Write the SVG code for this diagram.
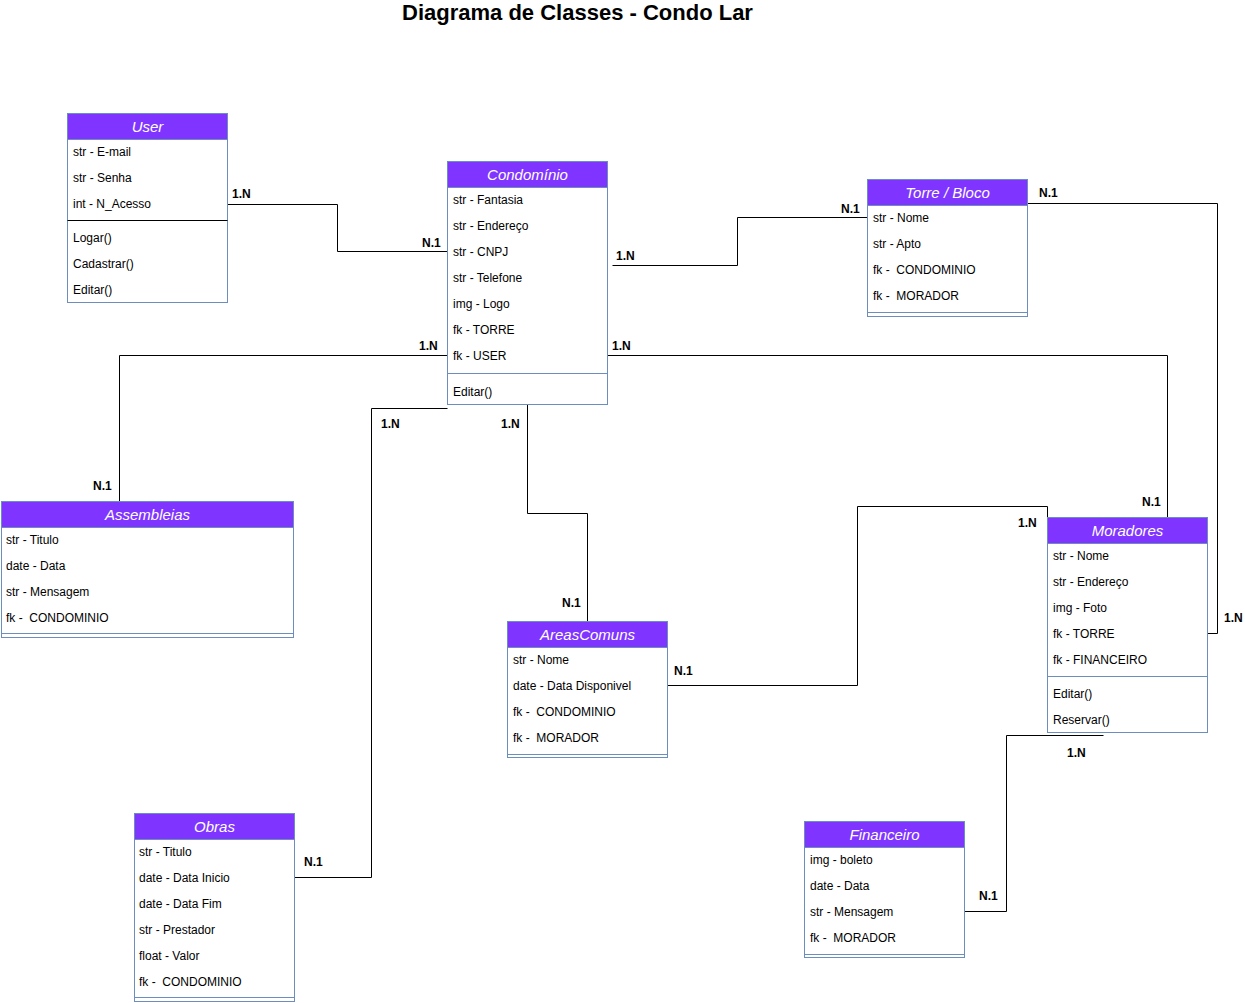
<svg xmlns="http://www.w3.org/2000/svg" width="1245" height="1003" viewBox="0 0 1245 1003">
<style>
.box{fill:#ffffff;stroke:#6c8ebf;stroke-width:1}
.hdr{fill:#7f35ff;stroke:#6c8ebf;stroke-width:1}
.sep{stroke:#6c8ebf;stroke-width:1}
.sepd{stroke:#000000;stroke-width:1}
.ttl{font-family:"Liberation Sans",Arial,sans-serif;font-size:15px;font-style:italic;fill:#ffffff;text-anchor:middle}
.row{font-family:"Liberation Sans",Arial,sans-serif;font-size:12px;fill:#000000;white-space:pre}
.lbl{font-family:"Liberation Sans",Arial,sans-serif;font-size:12px;font-weight:bold;fill:#000000}
.edge{fill:none;stroke:#000000;stroke-width:1}
.title{font-family:"Liberation Sans",Arial,sans-serif;font-size:22px;font-weight:bold;fill:#000000;text-anchor:middle}
</style>
<rect width="1245" height="1003" fill="#ffffff"/>
<text class="title" x="577.5" y="20">Diagrama de Classes - Condo Lar</text>

<g id="connectors">
<polyline class="edge" points="227.5,204.5 337.5,204.5 337.5,251.5 447.5,251.5"/>
<polyline class="edge" points="612.5,265.5 737.5,265.5 737.5,217.5 867.5,217.5"/>
<polyline class="edge" points="447.5,355.5 119.5,355.5 119.5,501.5"/>
<polyline class="edge" points="607.5,355.5 1167.5,355.5 1167.5,517.5"/>
<polyline class="edge" points="447.5,408.5 371.5,408.5 371.5,877.5 294.5,877.5"/>
<polyline class="edge" points="527.5,403.5 527.5,513.5 587.5,513.5 587.5,621.5"/>
<polyline class="edge" points="667.5,685.5 857.5,685.5 857.5,506.5 1047.5,506.5 1047.5,517.5"/>
<polyline class="edge" points="1027.5,203.5 1217.5,203.5 1217.5,633.5 1207.5,633.5"/>
<polyline class="edge" points="1103.5,735.5 1006.5,735.5 1006.5,911.5 964.5,911.5"/>
<text class="lbl" x="232" y="198">1.N</text>
<text class="lbl" x="422" y="247">N.1</text>
<text class="lbl" x="616" y="260">1.N</text>
<text class="lbl" x="841" y="213">N.1</text>
<text class="lbl" x="419" y="350">1.N</text>
<text class="lbl" x="93" y="490">N.1</text>
<text class="lbl" x="612" y="350">1.N</text>
<text class="lbl" x="1142" y="506">N.1</text>
<text class="lbl" x="381" y="428">1.N</text>
<text class="lbl" x="304" y="866">N.1</text>
<text class="lbl" x="501" y="428">1.N</text>
<text class="lbl" x="562" y="607">N.1</text>
<text class="lbl" x="674" y="675">N.1</text>
<text class="lbl" x="1018" y="527">1.N</text>
<text class="lbl" x="1039" y="197">N.1</text>
<text class="lbl" x="1224" y="622">1.N</text>
<text class="lbl" x="1067" y="757">1.N</text>
<text class="lbl" x="979" y="900">N.1</text>
</g>

<g id="user">
<rect class="box" x="67.5" y="113.5" width="160" height="189"/>
<rect class="hdr" x="67.5" y="113.5" width="160" height="26"/>
<text class="ttl" x="147.5" y="132">User</text>
<text class="row" x="73" y="156">str - E-mail</text>
<text class="row" x="73" y="182">str - Senha</text>
<text class="row" x="73" y="208">int - N_Acesso</text>
<line class="sepd" x1="67.5" y1="220.5" x2="227.5" y2="220.5"/>
<text class="row" x="73" y="242">Logar()</text>
<text class="row" x="73" y="268">Cadastrar()</text>
<text class="row" x="73" y="294">Editar()</text>
</g>

<g id="condominio">
<rect class="box" x="447.5" y="161.5" width="160" height="243"/>
<rect class="hdr" x="447.5" y="161.5" width="160" height="26"/>
<text class="ttl" x="527.5" y="180">Condomínio</text>
<text class="row" x="453" y="204">str - Fantasia</text>
<text class="row" x="453" y="230">str - Endereço</text>
<text class="row" x="453" y="256">str - CNPJ</text>
<text class="row" x="453" y="282">str - Telefone</text>
<text class="row" x="453" y="308">img - Logo</text>
<text class="row" x="453" y="334">fk - TORRE</text>
<text class="row" x="453" y="360">fk - USER</text>
<line class="sep" x1="447.5" y1="373.5" x2="607.5" y2="373.5"/>
<text class="row" x="453" y="396">Editar()</text>
</g>

<g id="torre">
<rect class="box" x="867.5" y="179.5" width="160" height="137"/>
<rect class="hdr" x="867.5" y="179.5" width="160" height="26"/>
<text class="ttl" x="947.5" y="198">Torre / Bloco</text>
<text class="row" x="873" y="222">str - Nome</text>
<text class="row" x="873" y="248">str - Apto</text>
<text class="row" x="873" y="274" xml:space="preserve">fk -  CONDOMINIO</text>
<text class="row" x="873" y="300" xml:space="preserve">fk -  MORADOR</text>
<line class="sep" x1="867.5" y1="312.5" x2="1027.5" y2="312.5"/>
</g>

<g id="assembleias">
<rect class="box" x="1.5" y="501.5" width="292" height="136"/>
<rect class="hdr" x="1.5" y="501.5" width="292" height="26"/>
<text class="ttl" x="147.5" y="520">Assembleias</text>
<text class="row" x="6" y="544">str - Titulo</text>
<text class="row" x="6" y="570">date - Data</text>
<text class="row" x="6" y="596">str - Mensagem</text>
<text class="row" x="6" y="622" xml:space="preserve">fk -  CONDOMINIO</text>
<line class="sep" x1="1.5" y1="633.5" x2="293.5" y2="633.5"/>
</g>

<g id="areascomuns">
<rect class="box" x="507.5" y="621.5" width="160" height="136"/>
<rect class="hdr" x="507.5" y="621.5" width="160" height="26"/>
<text class="ttl" x="587.5" y="640">AreasComuns</text>
<text class="row" x="513" y="664">str - Nome</text>
<text class="row" x="513" y="690">date - Data Disponivel</text>
<text class="row" x="513" y="716" xml:space="preserve">fk -  CONDOMINIO</text>
<text class="row" x="513" y="742" xml:space="preserve">fk -  MORADOR</text>
<line class="sep" x1="507.5" y1="754.5" x2="667.5" y2="754.5"/>
</g>

<g id="moradores">
<rect class="box" x="1047.5" y="517.5" width="160" height="215"/>
<rect class="hdr" x="1047.5" y="517.5" width="160" height="26"/>
<text class="ttl" x="1127.5" y="536">Moradores</text>
<text class="row" x="1053" y="560">str - Nome</text>
<text class="row" x="1053" y="586">str - Endereço</text>
<text class="row" x="1053" y="612">img - Foto</text>
<text class="row" x="1053" y="638">fk - TORRE</text>
<text class="row" x="1053" y="664">fk - FINANCEIRO</text>
<line class="sep" x1="1047.5" y1="676.5" x2="1207.5" y2="676.5"/>
<text class="row" x="1053" y="698">Editar()</text>
<text class="row" x="1053" y="724">Reservar()</text>
</g>

<g id="obras">
<rect class="box" x="134.5" y="813.5" width="160" height="188"/>
<rect class="hdr" x="134.5" y="813.5" width="160" height="26"/>
<text class="ttl" x="214.5" y="832">Obras</text>
<text class="row" x="139" y="856">str - Titulo</text>
<text class="row" x="139" y="882">date - Data Inicio</text>
<text class="row" x="139" y="908">date - Data Fim</text>
<text class="row" x="139" y="934">str - Prestador</text>
<text class="row" x="139" y="960">float - Valor</text>
<text class="row" x="139" y="986" xml:space="preserve">fk -  CONDOMINIO</text>
<line class="sep" x1="134.5" y1="997.5" x2="294.5" y2="997.5"/>
</g>

<g id="financeiro">
<rect class="box" x="804.5" y="821.5" width="160" height="136"/>
<rect class="hdr" x="804.5" y="821.5" width="160" height="26"/>
<text class="ttl" x="884.5" y="840">Financeiro</text>
<text class="row" x="810" y="864">img - boleto</text>
<text class="row" x="810" y="890">date - Data</text>
<text class="row" x="810" y="916">str - Mensagem</text>
<text class="row" x="810" y="942" xml:space="preserve">fk -  MORADOR</text>
<line class="sep" x1="804.5" y1="954.5" x2="964.5" y2="954.5"/>
</g>
</svg>
